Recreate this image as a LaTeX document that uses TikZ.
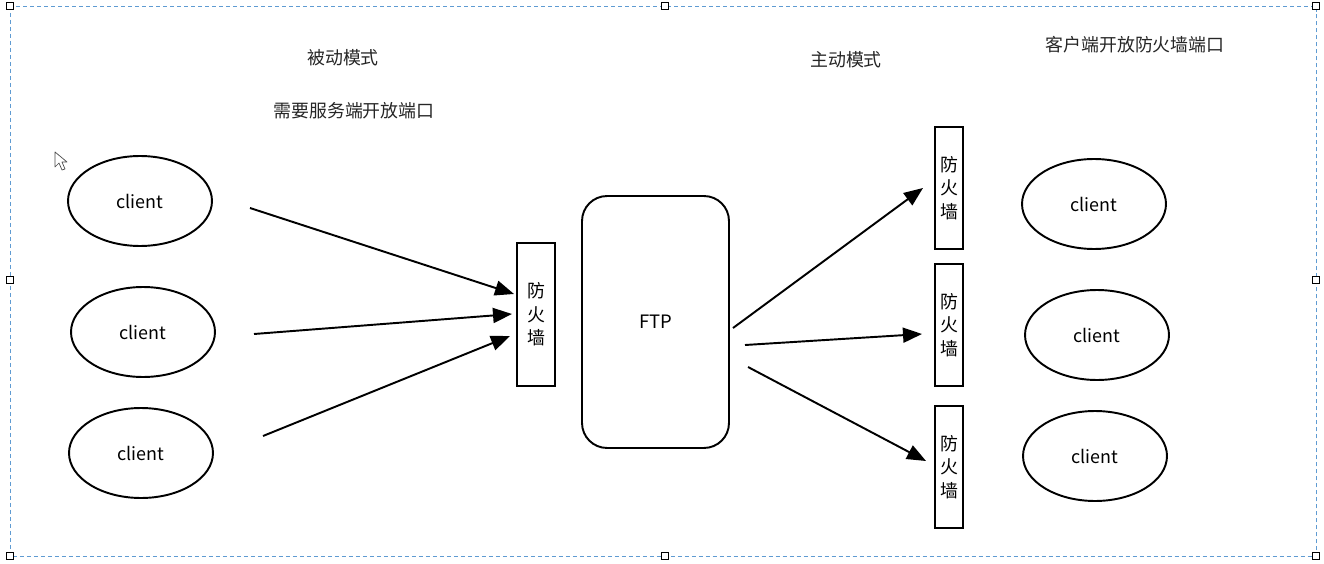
\documentclass[tikz,border=0pt]{standalone}
\usepackage{fontspec}
\newfontfamily\cjk{Noto Sans CJK SC}
\usetikzlibrary{shapes.geometric,arrows.meta}
\definecolor{selblue}{RGB}{95,155,210}
\tikzset{
  lbl/.style={font=\cjk\fontsize{10.2}{12}\selectfont, inner sep=0pt, text=black!85},
  clientnode/.style={draw, line width=1.1pt, ellipse, minimum width=2.88cm, minimum height=1.8cm, inner sep=0pt, font=\cjk\fontsize{10.2}{12}\selectfont},
  fwall/.style={draw, line width=1.1pt, inner sep=0pt, minimum width=0.56cm, font=\cjk\fontsize{10.2}{13.3}\selectfont, align=center},
  ftpbox/.style={draw, line width=1.1pt, rounded corners=0.5cm, minimum width=2.94cm, minimum height=5.04cm, inner sep=0pt, font=\cjk\fontsize{10.5}{12}\selectfont},
  conn/.style={line width=1.1pt, -{Triangle[length=0.38cm, width=0.3cm]}},
  handle/.style={draw=black, fill=white, line width=0.5pt, minimum size=0.14cm, inner sep=0pt, rectangle},
  selborder/.style={draw=selblue, line width=0.5pt, dash pattern=on 0.08cm off 0.06cm}
}
\begin{document}
\begin{tikzpicture}[x=0.02cm, y=-0.02cm]
\useasboundingbox (0,0) rectangle (1324,564);
\fill[white] (0,0) rectangle (1324,564);
% selection frame
\draw[selborder] (10,6) rectangle (1316,556);
\foreach \hx/\hy [count=\i] in {10/6, 665/6, 1316/6, 10/280, 1316/280, 10/556, 665/556, 1316/556}
  \node[handle] (h\i) at (\hx,\hy) {};
% cursor
\draw[fill=white, draw=black!70, line width=0.4pt, line join=round]
  (55,152) -- (55,167) -- (59,163) -- (62,170) -- (65,169) -- (62,162) -- (67,162) -- cycle;
% titles
\node[lbl] (t1) at (343,58) {被动模式};
\node[lbl] (t2) at (354,111) {需要服务端开放端口};
\node[lbl] (t3) at (846,60) {主动模式};
\node[lbl] (t4) at (1135,45) {客户端开放防火墙端口};
% left clients
\node[clientnode] (c1) at (140,201) {client};
\node[clientnode] (c2) at (143,332) {client};
\node[clientnode] (c3) at (141,453) {client};
% right clients
\node[clientnode] (d1) at (1094,204) {client};
\node[clientnode] (d2) at (1097,335) {client};
\node[clientnode] (d3) at (1095,456) {client};
% firewalls
\node[fwall, minimum width=0.76cm, minimum height=2.86cm] (fw) at (536,314.5) {防\\火\\墙};
\node[fwall, minimum height=2.44cm] (fr1) at (949,188) {防\\火\\墙};
\node[fwall, minimum height=2.44cm] (fr2) at (949,325) {防\\火\\墙};
\node[fwall, minimum height=2.44cm] (fr3) at (949,467) {防\\火\\墙};
% FTP
\node[ftpbox] (ftp) at (655.5,322) {FTP};
% connector end points
\coordinate (a1s) at (250,208); \coordinate (a1e) at (514,294);
\coordinate (a2s) at (254,334); \coordinate (a2e) at (512,314);
\coordinate (a3s) at (263,436); \coordinate (a3e) at (510,336);
\coordinate (b1s) at (733,328); \coordinate (b1e) at (923,188);
\coordinate (b2s) at (745,345); \coordinate (b2e) at (922,334);
\coordinate (b3s) at (748,367); \coordinate (b3e) at (926,461);
\draw[conn] (a1s) -- (a1e);
\draw[conn] (a2s) -- (a2e);
\draw[conn] (a3s) -- (a3e);
\draw[conn] (b1s) -- (b1e);
\draw[conn] (b2s) -- (b2e);
\draw[conn] (b3s) -- (b3e);
\end{tikzpicture}
\end{document}
